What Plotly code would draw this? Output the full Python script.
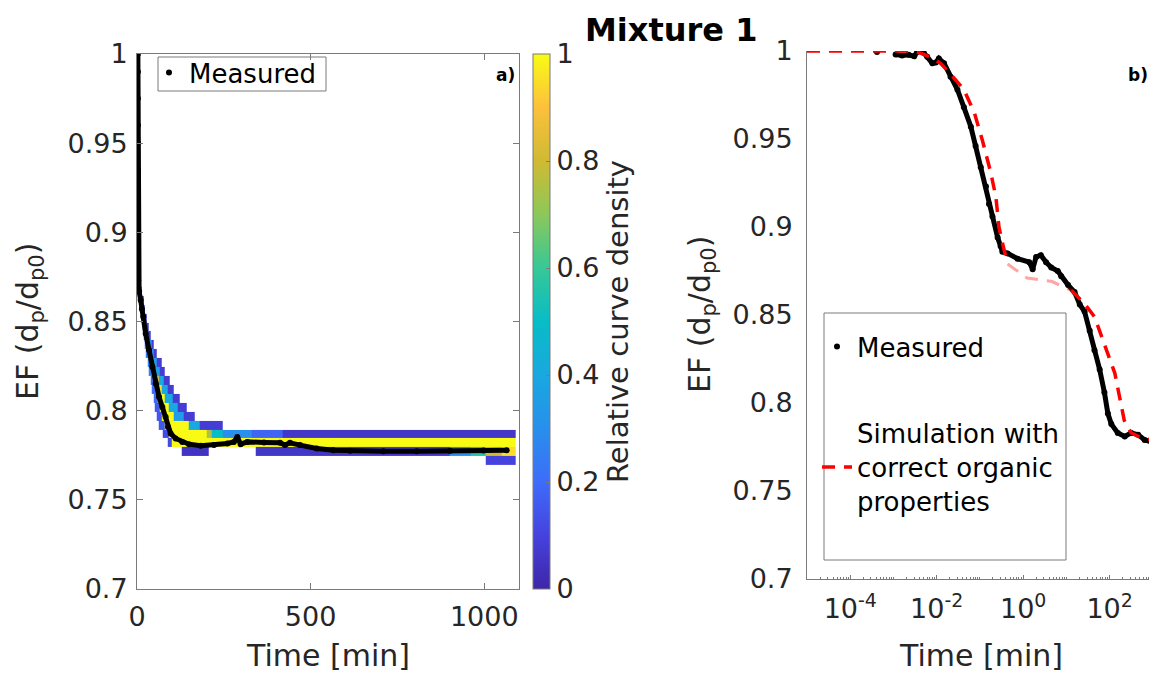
import plotly.graph_objects as go

# page has an 8 px body margin: the figure is sized/placed so that page pixels match
W, H = 1149, 669
OFF = 8

# ---------------- Panel a) : measured curve, linear time ----------------
meas_a_time = [2.5, 2.5, 2.6, 2.6, 2.7, 2.7, 2.8, 2.8, 2.9, 3.0, 3.0,
               3.5, 6.0, 10.6, 14.0, 18.2, 25.0, 34.6, 44.2, 53.7, 63.3,
               72.9, 82.5, 89.2, 96.9, 111.3, 130.5, 149.7, 183.3, 221.7, 260.0,
               279.0, 288.9, 298.5, 317.7, 365.7, 411.8, 426.2, 440.6, 469.4, 517.4,
               565.4, 613.4, 709.4, 805.4, 901.4, 997.4, 1064.6]
meas_a_ef = [1.0, 0.99, 0.975, 0.96, 0.95, 0.935, 0.92, 0.905, 0.895, 0.885, 0.878,
             0.873, 0.867, 0.862, 0.857, 0.8526, 0.8433, 0.834, 0.8246, 0.8153, 0.8078,
             0.8021, 0.7965, 0.7909, 0.7872, 0.7844, 0.7825, 0.7812, 0.7803, 0.7807, 0.7816,
             0.7825, 0.7853, 0.7812, 0.7825, 0.7822, 0.7820, 0.7807, 0.7820, 0.7807, 0.7788,
             0.7778, 0.7775, 0.7773, 0.7773, 0.7775, 0.7777, 0.7778]

# ---------------- Panel a) : relative curve density (heatmap) ----------------
heat_ef_edges = [0.7695, 0.7745, 0.7795, 0.7845, 0.7895, 0.7945, 0.7995, 0.8045,
                 0.8095, 0.8145, 0.8195, 0.8245, 0.8295, 0.8345, 0.8395, 0.8445,
                 0.8495, 0.8545, 0.8595, 0.8645, 0.8695, 0.8745, 0.8795]
# one list per EF row (bottom to top): (time start, time end, relative density)
heat_segments = [
    [(1005, 1090, 0.10)],
    [(130, 205, 0.05), (343, 900, 0.06), (900, 960, 0.30), (960, 1005, 0.55),
     (1005, 1050, 0.80), (1050, 1090, 0.95)],
    [(88, 100, 0.12), (100, 1090, 1.0)],
    [(75, 92, 0.12), (92, 200, 1.0), (200, 215, 0.75), (215, 246, 0.50),
     (246, 330, 0.30), (330, 420, 0.18), (420, 1090, 0.06)],
    [(63, 80, 0.15), (80, 150, 1.0), (150, 180, 0.40), (180, 247, 0.08)],
    [(57, 72, 0.15), (72, 105, 1.0), (105, 135, 0.35), (135, 167, 0.08)],
    [(52, 66, 0.15), (66, 92, 1.0), (92, 118, 0.40), (118, 143, 0.08)],
    [(47, 59, 0.20), (59, 80, 1.0), (80, 102, 0.40), (102, 124, 0.08)],
    [(42, 53, 0.20), (53, 70, 0.95), (70, 88, 0.40), (88, 107, 0.08)],
    [(38, 48, 0.20), (48, 62, 0.90), (62, 78, 0.40), (78, 95, 0.08)],
    [(34, 43, 0.25), (43, 52, 0.80), (52, 66, 0.35), (66, 81, 0.08)],
    [(30, 38, 0.25), (38, 46, 0.70), (46, 58, 0.35), (58, 71, 0.08)],
    [(26, 34, 0.25), (34, 41, 0.65), (41, 49, 0.30), (49, 57, 0.08)],
    [(23, 29, 0.20), (29, 35, 0.60), (35, 42, 0.30), (42, 48, 0.08)],
    [(19, 24, 0.15), (24, 30, 0.55), (30, 35, 0.25), (35, 40, 0.08)],
    [(16, 20, 0.15), (20, 25, 0.50), (25, 29, 0.25), (29, 33, 0.08)],
    [(13, 17, 0.12), (17, 21, 0.45), (21, 27, 0.10)],
    [(10, 13, 0.12), (13, 17, 0.45), (17, 22, 0.10)],
    [(8, 10, 0.10), (10, 13, 0.40), (13, 18, 0.08)],
    [(4, 5, 0.10), (5, 8, 0.40), (8, 14, 0.08)],
    [(3, 4, 0.10), (4, 7, 0.35), (7, 11, 0.08)],
    [(2, 3, 0.10), (3, 5, 0.35), (5, 8, 0.08)],
]

# ---------------- Panel b) : log time ----------------
meas_b_log10_time = [-3.38, None, -2.95, -2.80, -2.65, -2.52, -2.45, -2.40, -2.30, -2.22,
                     -2.10, -2.02, -1.95, -1.83, -1.68, -1.52, -1.37, -1.21, -1.10, -0.98,
                     -0.86, -0.79, -0.71, -0.59, -0.52, -0.48, -0.36, -0.13, 0.14, 0.22,
                     0.30, 0.41, 0.53, 0.65, 0.80, 0.88, 1.04, 1.19, 1.31, 1.42,
                     1.54, 1.65, 1.77, 1.88, 1.96, 2.04, 2.19, 2.35, 2.50, 2.66,
                     2.81, 2.97, 3.05]
meas_b_ef = [0.9995, None, 0.998, 0.9975, 0.9978, 0.997, 0.9995, 1.0, 0.999, 0.9968,
             0.993, 0.9935, 0.9958, 0.993, 0.9854, 0.978, 0.968, 0.957, 0.946, 0.934,
             0.923, 0.913, 0.906, 0.894, 0.889, 0.886, 0.885, 0.882, 0.880, 0.876,
             0.883, 0.884, 0.880, 0.877, 0.875, 0.872, 0.867, 0.863, 0.856, 0.852,
             0.841, 0.830, 0.819, 0.806, 0.794, 0.788, 0.783, 0.781, 0.783, 0.782,
             0.779, 0.778, 0.779]

sim_log10_time = [-5.0, -2.6, -2.37, -2.1, -1.91, -1.68, -1.37, -1.13, -0.94, -0.75,
                  -0.63, -0.56, -0.45, -0.36, 0.09, 0.67, 1.11, 1.40, 1.65, 1.88,
                  2.12, 2.34, 2.50, 2.75, 2.97, 3.05]
sim_ef = [1.0, 1.0, 0.9988, 0.996, 0.993, 0.987, 0.978, 0.965, 0.949, 0.931,
          0.917, 0.900, 0.888, 0.879, 0.871, 0.869, 0.864, 0.857, 0.849, 0.834,
          0.817, 0.790, 0.783, 0.780, 0.779, 0.779]
sim_faint_start, sim_faint_end = 13, 16   # sparse (faint) part of the simulation

ef_ticks = [0.7, 0.75, 0.8, 0.85, 0.9, 0.95, 1.0]
ef_ticktext = ["0.7", "0.75", "0.8", "0.85", "0.9", "0.95", "1"]
time_a_ticks = [0, 500, 1000]
time_b_label_decades = [-4, -2, 0, 2]
cb_ticks = [0, 0.2, 0.4, 0.6, 0.8, 1.0]
cb_ticktext = ["0", "0.2", "0.4", "0.6", "0.8", "1"]

parula = [
    [0.0, "rgb(62,38,168)"], [0.1, "rgb(70,66,222)"], [0.2, "rgb(62,108,250)"],
    [0.3, "rgb(40,143,236)"], [0.4, "rgb(25,168,224)"], [0.5, "rgb(8,188,198)"],
    [0.6, "rgb(55,200,150)"], [0.7, "rgb(140,200,90)"], [0.8, "rgb(208,186,50)"],
    [0.9, "rgb(252,192,60)"], [1.0, "rgb(249,251,21)"],
]

# ---------- build heatmap table ----------
t_edges = sorted({v for row in heat_segments for s in row for v in s[:2]})
z = []
for row in heat_segments:
    zr = [None] * (len(t_edges) - 1)
    for (t0, t1, d) in row:
        for j in range(len(t_edges) - 1):
            if t_edges[j] >= t0 and t_edges[j + 1] <= t1:
                zr[j] = d
    z.append(zr)

FONT = "DejaVu Sans"
TXT = "#262626"
AX = "#7a7a7a"


def px_x(p):
    return (p - OFF) / W


def px_y(p):
    return 1 - (p - OFF) / H


fig = go.Figure()

fig.add_trace(go.Heatmap(
    x=t_edges, y=heat_ef_edges, z=z, zmin=0, zmax=1, colorscale=parula,
    xaxis="x", yaxis="y", hoverinfo="skip", showscale=True,
    colorbar=dict(
        x=px_x(533), xanchor="left", xpad=0, y=px_y((54 + 589) / 2), yanchor="middle",
        len=(589 - 54) / H, lenmode="fraction", thickness=17, ypad=0,
        outlinecolor=AX, outlinewidth=1, ticks="inside", ticklen=4, tickcolor=AX,
        tickvals=cb_ticks, ticktext=cb_ticktext,
        tickfont=dict(family=FONT, size=27, color=TXT),
        title=dict(text="Relative curve density", side="right",
                   font=dict(family=FONT, size=29, color=TXT)),
    ),
))

fig.add_trace(go.Scatter(
    x=meas_a_time, y=meas_a_ef, mode="lines", line=dict(color="black", width=5),
    xaxis="x", yaxis="y", showlegend=False, hoverinfo="skip"))
fig.add_trace(go.Scatter(
    x=meas_a_time, y=meas_a_ef, mode="markers", name="Measured",
    marker=dict(color="black", size=6), xaxis="x", yaxis="y", legend="legend"))

meas_b_time = [None if v is None else 10 ** v for v in meas_b_log10_time]
sim_time = [10 ** v for v in sim_log10_time]

dash = "13px,9px"
fig.add_trace(go.Scatter(
    x=meas_b_time, y=meas_b_ef, mode="lines", line=dict(color="black", width=5),
    connectgaps=False, xaxis="x2", yaxis="y2", showlegend=False, hoverinfo="skip"))
fig.add_trace(go.Scatter(
    x=meas_b_time, y=meas_b_ef, mode="markers", name="Measured",
    marker=dict(color="black", size=6), xaxis="x2", yaxis="y2",
    legend="legend2", legendgroup="meas"))
fig.add_trace(go.Scatter(
    x=sim_time[:sim_faint_start + 1], y=sim_ef[:sim_faint_start + 1], mode="lines",
    name="Simulation with<br>correct organic<br>properties",
    line=dict(color="red", width=3.5, dash=dash),
    xaxis="x2", yaxis="y2", legend="legend2", legendgroup="sim"))
fig.add_trace(go.Scatter(
    x=sim_time[sim_faint_start:sim_faint_end + 1], y=sim_ef[sim_faint_start:sim_faint_end + 1],
    mode="lines", line=dict(color="red", width=3, dash=dash), opacity=0.35,
    xaxis="x2", yaxis="y2", showlegend=False, legendgroup="sim"))
fig.add_trace(go.Scatter(
    x=sim_time[sim_faint_end:], y=sim_ef[sim_faint_end:], mode="lines",
    line=dict(color="red", width=3.5, dash=dash),
    xaxis="x2", yaxis="y2", showlegend=False, legendgroup="sim"))

tickfont = dict(family=FONT, size=27, color=TXT)


def ann(text, x, y, size, color=TXT, angle=0):
    return dict(text=text, x=px_x(x), y=px_y(y), xref="paper", yref="paper",
                xanchor="center", yanchor="middle", showarrow=False, textangle=angle,
                font=dict(family=FONT, size=size, color=color))


fig.update_layout(
    width=W, height=H, margin=dict(l=0, r=0, t=0, b=0),
    paper_bgcolor="white", plot_bgcolor="white",
    font=dict(family=FONT, color=TXT),
    xaxis=dict(domain=[px_x(137), px_x(519)], range=[0, 1100], tickvals=time_a_ticks,
               ticks="inside", ticklen=6, tickcolor=AX, mirror="ticks", showline=True,
               linecolor=AX, linewidth=1, showgrid=False, zeroline=False,
               tickfont=tickfont, anchor="y", automargin=False, ticklabelstandoff=4),
    yaxis=dict(domain=[px_y(589), px_y(54)], range=[0.7, 1.0], tickvals=ef_ticks,
               ticktext=ef_ticktext, ticks="inside", ticklen=6, tickcolor=AX,
               mirror="ticks", showline=True, linecolor=AX, linewidth=1, showgrid=False,
               zeroline=False, tickfont=tickfont, anchor="x", automargin=False,
               ticklabelstandoff=3),
    xaxis2=dict(domain=[px_x(807), px_x(1155)], type="log", range=[-5, 3.05],
                tickvals=[10 ** d for d in time_b_label_decades],
                ticktext=["10<sup>%d</sup>" % d for d in time_b_label_decades],
                ticks="inside", ticklen=4, tickcolor=AX, showline=True, linecolor=AX,
                linewidth=1, showgrid=False, zeroline=False, tickfont=tickfont,
                anchor="y2", automargin=False, ticklabelstandoff=6,
                minor=dict(ticks="inside", ticklen=2, tickcolor=AX, dtick="D1", showgrid=False)),
    yaxis2=dict(domain=[px_y(579), px_y(51)], range=[0.7, 1.0], tickvals=ef_ticks,
                ticktext=ef_ticktext, ticks="", showline=True, linecolor=AX, linewidth=1,
                showgrid=False, zeroline=False, tickfont=tickfont, anchor="x2",
                automargin=False, ticklabelstandoff=8),
    legend=dict(x=px_x(149), y=px_y(49), xanchor="left", yanchor="top",
                bgcolor="rgba(0,0,0,0)", borderwidth=0,
                font=dict(family=FONT, size=26, color="black")),
    legend2=dict(x=px_x(817), y=px_y(323), xanchor="left", yanchor="top",
                 bgcolor="rgba(0,0,0,0)", borderwidth=0, traceorder="grouped",
                 tracegroupgap=50, font=dict(family=FONT, size=26, color="black")),
    shapes=[
        dict(type="rect", xref="paper", yref="paper", x0=px_x(158), x1=px_x(326),
             y0=px_y(91), y1=px_y(57), line=dict(color=AX, width=1)),
        dict(type="rect", xref="paper", yref="paper", x0=px_x(824), x1=px_x(1066),
             y0=px_y(560), y1=px_y(313), line=dict(color=AX, width=1)),
    ],
    annotations=[
        ann("<b>Mixture 1</b>", 671, 30, 32, color="black"),
        ann("<b>a)</b>", 505, 75, 17, color="black"),
        ann("<b>b)</b>", 1138, 75, 17, color="black"),
        ann("Time [min]", 328, 655, 30),
        ann("Time [min]", 981, 655, 30),
        ann("EF (d<sub>p</sub>/d<sub>p0</sub>)", 30, 322, 30, angle=-90),
        ann("EF (d<sub>p</sub>/d<sub>p0</sub>)", 701, 315, 30, angle=-90),
    ],
)

fig.write_html("out.html")
